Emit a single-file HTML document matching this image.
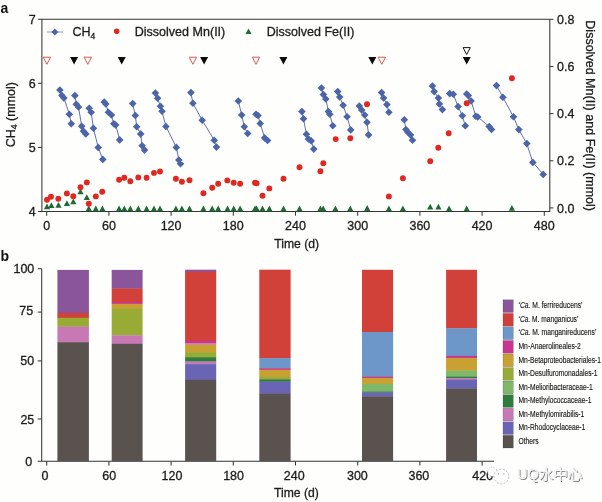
<!DOCTYPE html>
<html><head><meta charset="utf-8"><title>Figure</title>
<style>html,body{margin:0;padding:0;background:#fefefd;}body{width:602px;height:502px;overflow:hidden;position:relative;}</style>
</head><body>
<svg width="602" height="502" viewBox="0 0 602 502" style="position:absolute;left:0;top:0">
<rect width="602" height="502" fill="#fefefd"/>
<g stroke="#353535" stroke-width="1.05" fill="none">
<path d="M37.9 19.3 H549.8 M41.9 19.3 V211.4 M549.8 19.3 V211.9 M37.9 211.4 H549.8"/>
<path d="M37.9 83.3 H41.9"/>
<path d="M37.9 147.4 H41.9"/>
<path d="M549.8 207.9 H553.4"/>
<path d="M549.8 160.8 H553.4"/>
<path d="M549.8 113.6 H553.4"/>
<path d="M549.8 66.5 H553.4"/>
<path d="M549.8 19.3 H553.4"/>
<path d="M46.7 211.4 V215.7"/>
<path d="M108.9 211.4 V215.7"/>
<path d="M171.1 211.4 V215.7"/>
<path d="M233.3 211.4 V215.7"/>
<path d="M295.5 211.4 V215.7"/>
<path d="M357.7 211.4 V215.7"/>
<path d="M419.9 211.4 V215.7"/>
<path d="M482.1 211.4 V215.7"/>
<path d="M544.3 211.4 V215.7"/>
</g>
<g font-family='"Liberation Sans", "Noto Sans CJK SC", sans-serif' font-size="12.5" fill="#1c1c1c" stroke="#1c1c1c" stroke-width="0.3">
<text x="35.6" y="23.7" text-anchor="end">7</text>
<text x="35.6" y="87.7" text-anchor="end">6</text>
<text x="35.6" y="151.8" text-anchor="end">5</text>
<text x="35.6" y="215.8" text-anchor="end">4</text>
<text x="557.0" y="212.6">0.0</text>
<text x="557.0" y="165.4">0.2</text>
<text x="557.0" y="118.3">0.4</text>
<text x="557.0" y="71.2">0.6</text>
<text x="557.0" y="24.0">0.8</text>
<text x="46.7" y="230" text-anchor="middle">0</text>
<text x="108.9" y="230" text-anchor="middle">60</text>
<text x="171.1" y="230" text-anchor="middle">120</text>
<text x="233.3" y="230" text-anchor="middle">180</text>
<text x="295.5" y="230" text-anchor="middle">240</text>
<text x="357.7" y="230" text-anchor="middle">300</text>
<text x="419.9" y="230" text-anchor="middle">360</text>
<text x="482.1" y="230" text-anchor="middle">420</text>
<text x="544.3" y="230" text-anchor="middle">480</text>
<text x="274.3" y="247.9" textLength="44.8" lengthAdjust="spacingAndGlyphs">Time (d)</text>
<text transform="translate(14.8 147.3) rotate(-90)" textLength="65.3" lengthAdjust="spacingAndGlyphs">CH<tspan font-size="8.5" dy="2.5">4</tspan><tspan dy="-2.5"> (mmol)</tspan></text>
<text transform="translate(586.0 20.3) rotate(90)" textLength="190.7" lengthAdjust="spacingAndGlyphs">Dissolved Mn(II) and Fe(II) (mmol)</text>
<text x="72.4" y="36.2">CH<tspan font-size="8.5" dy="2.5">4</tspan></text>
<text x="134.7" y="36.2" textLength="90.6" lengthAdjust="spacingAndGlyphs">Dissolved Mn(II)</text>
<text x="266.7" y="36.2" textLength="87.7" lengthAdjust="spacingAndGlyphs">Dissolved Fe(II)</text>
</g>
<g font-family='"Liberation Sans", "Noto Sans CJK SC", sans-serif' font-weight="bold" font-size="14" fill="#111">
<text x="0.6" y="12.8">a</text>
<text x="0.6" y="261">b</text>
</g>
<path d="M47 32 H63" stroke="#7d8fc2" stroke-width="0.9" fill="none"/>
<path d="M54.8 28.5 l3.5 3.5 l-3.5 3.5 l-3.5 -3.5 z" fill="#4c65a8"/>
<circle cx="116.7" cy="31.3" r="2.8" fill="#df2820"/>
<path d="M248.5 28.6 l3 5.4 h-6 z" fill="#1f6b33"/>
<g stroke="#566aa6" stroke-width="0.95" fill="none" stroke-linejoin="round">
<path d="M59.9 89.9 L61.9 95.5 L63.9 97.9 L69.3 114.3 L71.3 123.8"/>
<path d="M74.9 95.5 L76.3 104.3 L78.5 106.9 L81.7 126.2 L83.5 131.2 L85.8 133.8"/>
<path d="M89.2 108.3 L91.2 112.3 L93.4 128.2 L98.2 147.3 L102.8 159.3"/>
<path d="M104.2 101.9 L105.8 103.9 L108.4 112.3 L111.4 114.9 L113.8 123.8 L115.7 125.0 L119.7 139.8"/>
<path d="M132.7 103.5 L135.3 115.4 L136.7 126.8 L140.7 133.8 L142.1 145.7 L144.5 150.1"/>
<path d="M155.4 92.9 L157.6 98.3 L160.4 106.3 L162.0 111.3 L165.9 126.4 L176.3 147.3 L178.9 160.1 L180.5 163.7"/>
<path d="M190.9 92.5 L192.9 103.3 L202.2 120.2 L214.2 140.2 L216.4 147.1"/>
<path d="M238.3 100.9 L241.7 114.9 L244.3 126.8 L247.7 133.4"/>
<path d="M256.0 114.3 L258.0 115.4 L260.2 123.4 L264.6 137.8 L267.6 140.4"/>
<path d="M301.9 111.5 L303.5 118.8 L306.4 134.2 L308.4 138.8 L311.2 140.8 L313.8 149.1"/>
<path d="M321.4 87.9 L323.4 94.5 L325.8 98.9 L328.4 111.5 L329.8 114.3 L332.8 125.8"/>
<path d="M337.7 91.5 L339.7 96.9 L343.1 105.3 L347.1 116.8 L350.7 129.8"/>
<path d="M359.3 105.9 L361.7 109.9 L364.7 114.9 L367.0 122.2 L368.6 134.8"/>
<path d="M381.6 92.5 L383.6 97.9 L386.9 104.5 L388.9 112.3"/>
<path d="M404.3 119.8 L405.9 129.4 L407.9 132.2 L410.5 134.8 L412.5 140.2"/>
<path d="M432.4 85.9 L434.2 91.5 L438.4 97.9 L439.4 103.9 L442.4 109.5"/>
<path d="M449.7 93.5 L453.3 94.3 L458.1 106.5 L462.3 115.8 L465.3 125.8"/>
<path d="M466.7 93.9 L468.3 95.5 L471.1 100.9 L475.8 116.2 L477.8 117.0 L489.2 126.5 L491.5 129.4"/>
<path d="M496.5 85.5 L502.9 97.3 L513.5 116.8 L518.8 129.6 L526.8 143.6 L532.8 162.3 L543.2 174.3"/>
</g>
<path fill="#4c65a8" d="M59.9 86.2 l3.8 3.8 l-3.8 3.8 l-3.8 -3.8 z M61.9 91.8 l3.8 3.8 l-3.8 3.8 l-3.8 -3.8 z M63.9 94.2 l3.8 3.8 l-3.8 3.8 l-3.8 -3.8 z M69.3 110.5 l3.8 3.8 l-3.8 3.8 l-3.8 -3.8 z M71.3 120.0 l3.8 3.8 l-3.8 3.8 l-3.8 -3.8 z M74.9 91.8 l3.8 3.8 l-3.8 3.8 l-3.8 -3.8 z M76.3 100.5 l3.8 3.8 l-3.8 3.8 l-3.8 -3.8 z M78.5 103.2 l3.8 3.8 l-3.8 3.8 l-3.8 -3.8 z M81.7 122.5 l3.8 3.8 l-3.8 3.8 l-3.8 -3.8 z M83.5 127.4 l3.8 3.8 l-3.8 3.8 l-3.8 -3.8 z M85.8 130.1 l3.8 3.8 l-3.8 3.8 l-3.8 -3.8 z M89.2 104.5 l3.8 3.8 l-3.8 3.8 l-3.8 -3.8 z M91.2 108.5 l3.8 3.8 l-3.8 3.8 l-3.8 -3.8 z M93.4 124.4 l3.8 3.8 l-3.8 3.8 l-3.8 -3.8 z M98.2 143.6 l3.8 3.8 l-3.8 3.8 l-3.8 -3.8 z M102.8 155.6 l3.8 3.8 l-3.8 3.8 l-3.8 -3.8 z M104.2 98.2 l3.8 3.8 l-3.8 3.8 l-3.8 -3.8 z M105.8 100.2 l3.8 3.8 l-3.8 3.8 l-3.8 -3.8 z M108.4 108.5 l3.8 3.8 l-3.8 3.8 l-3.8 -3.8 z M111.4 111.2 l3.8 3.8 l-3.8 3.8 l-3.8 -3.8 z M113.8 120.0 l3.8 3.8 l-3.8 3.8 l-3.8 -3.8 z M115.7 121.2 l3.8 3.8 l-3.8 3.8 l-3.8 -3.8 z M119.7 136.1 l3.8 3.8 l-3.8 3.8 l-3.8 -3.8 z M132.7 99.8 l3.8 3.8 l-3.8 3.8 l-3.8 -3.8 z M135.3 111.7 l3.8 3.8 l-3.8 3.8 l-3.8 -3.8 z M136.7 123.0 l3.8 3.8 l-3.8 3.8 l-3.8 -3.8 z M140.7 130.1 l3.8 3.8 l-3.8 3.8 l-3.8 -3.8 z M142.1 141.9 l3.8 3.8 l-3.8 3.8 l-3.8 -3.8 z M144.5 146.3 l3.8 3.8 l-3.8 3.8 l-3.8 -3.8 z M155.4 89.2 l3.8 3.8 l-3.8 3.8 l-3.8 -3.8 z M157.6 94.5 l3.8 3.8 l-3.8 3.8 l-3.8 -3.8 z M160.4 102.5 l3.8 3.8 l-3.8 3.8 l-3.8 -3.8 z M162.0 107.5 l3.8 3.8 l-3.8 3.8 l-3.8 -3.8 z M165.9 122.7 l3.8 3.8 l-3.8 3.8 l-3.8 -3.8 z M176.3 143.6 l3.8 3.8 l-3.8 3.8 l-3.8 -3.8 z M178.9 156.3 l3.8 3.8 l-3.8 3.8 l-3.8 -3.8 z M180.5 159.9 l3.8 3.8 l-3.8 3.8 l-3.8 -3.8 z M190.9 88.8 l3.8 3.8 l-3.8 3.8 l-3.8 -3.8 z M192.9 99.5 l3.8 3.8 l-3.8 3.8 l-3.8 -3.8 z M202.2 116.5 l3.8 3.8 l-3.8 3.8 l-3.8 -3.8 z M214.2 136.4 l3.8 3.8 l-3.8 3.8 l-3.8 -3.8 z M216.4 143.3 l3.8 3.8 l-3.8 3.8 l-3.8 -3.8 z M238.3 97.2 l3.8 3.8 l-3.8 3.8 l-3.8 -3.8 z M241.7 111.2 l3.8 3.8 l-3.8 3.8 l-3.8 -3.8 z M244.3 123.0 l3.8 3.8 l-3.8 3.8 l-3.8 -3.8 z M247.7 129.7 l3.8 3.8 l-3.8 3.8 l-3.8 -3.8 z M256.0 110.5 l3.8 3.8 l-3.8 3.8 l-3.8 -3.8 z M258.0 111.7 l3.8 3.8 l-3.8 3.8 l-3.8 -3.8 z M260.2 119.7 l3.8 3.8 l-3.8 3.8 l-3.8 -3.8 z M264.6 134.1 l3.8 3.8 l-3.8 3.8 l-3.8 -3.8 z M267.6 136.7 l3.8 3.8 l-3.8 3.8 l-3.8 -3.8 z M301.9 107.8 l3.8 3.8 l-3.8 3.8 l-3.8 -3.8 z M303.5 115.0 l3.8 3.8 l-3.8 3.8 l-3.8 -3.8 z M306.4 130.4 l3.8 3.8 l-3.8 3.8 l-3.8 -3.8 z M308.4 135.1 l3.8 3.8 l-3.8 3.8 l-3.8 -3.8 z M311.2 137.1 l3.8 3.8 l-3.8 3.8 l-3.8 -3.8 z M313.8 145.3 l3.8 3.8 l-3.8 3.8 l-3.8 -3.8 z M321.4 84.2 l3.8 3.8 l-3.8 3.8 l-3.8 -3.8 z M323.4 90.8 l3.8 3.8 l-3.8 3.8 l-3.8 -3.8 z M325.8 95.2 l3.8 3.8 l-3.8 3.8 l-3.8 -3.8 z M328.4 107.8 l3.8 3.8 l-3.8 3.8 l-3.8 -3.8 z M329.8 110.5 l3.8 3.8 l-3.8 3.8 l-3.8 -3.8 z M332.8 122.0 l3.8 3.8 l-3.8 3.8 l-3.8 -3.8 z M337.7 87.8 l3.8 3.8 l-3.8 3.8 l-3.8 -3.8 z M339.7 93.2 l3.8 3.8 l-3.8 3.8 l-3.8 -3.8 z M343.1 101.5 l3.8 3.8 l-3.8 3.8 l-3.8 -3.8 z M347.1 113.0 l3.8 3.8 l-3.8 3.8 l-3.8 -3.8 z M350.7 126.1 l3.8 3.8 l-3.8 3.8 l-3.8 -3.8 z M359.3 102.2 l3.8 3.8 l-3.8 3.8 l-3.8 -3.8 z M361.7 106.2 l3.8 3.8 l-3.8 3.8 l-3.8 -3.8 z M364.7 111.2 l3.8 3.8 l-3.8 3.8 l-3.8 -3.8 z M367.0 118.5 l3.8 3.8 l-3.8 3.8 l-3.8 -3.8 z M368.6 131.1 l3.8 3.8 l-3.8 3.8 l-3.8 -3.8 z M381.6 88.8 l3.8 3.8 l-3.8 3.8 l-3.8 -3.8 z M383.6 94.2 l3.8 3.8 l-3.8 3.8 l-3.8 -3.8 z M386.9 100.8 l3.8 3.8 l-3.8 3.8 l-3.8 -3.8 z M388.9 108.5 l3.8 3.8 l-3.8 3.8 l-3.8 -3.8 z M404.3 116.0 l3.8 3.8 l-3.8 3.8 l-3.8 -3.8 z M405.9 125.7 l3.8 3.8 l-3.8 3.8 l-3.8 -3.8 z M407.9 128.4 l3.8 3.8 l-3.8 3.8 l-3.8 -3.8 z M410.5 131.1 l3.8 3.8 l-3.8 3.8 l-3.8 -3.8 z M412.5 136.4 l3.8 3.8 l-3.8 3.8 l-3.8 -3.8 z M432.4 82.2 l3.8 3.8 l-3.8 3.8 l-3.8 -3.8 z M434.2 87.8 l3.8 3.8 l-3.8 3.8 l-3.8 -3.8 z M438.4 94.2 l3.8 3.8 l-3.8 3.8 l-3.8 -3.8 z M439.4 100.2 l3.8 3.8 l-3.8 3.8 l-3.8 -3.8 z M442.4 105.8 l3.8 3.8 l-3.8 3.8 l-3.8 -3.8 z M449.7 89.8 l3.8 3.8 l-3.8 3.8 l-3.8 -3.8 z M453.3 90.5 l3.8 3.8 l-3.8 3.8 l-3.8 -3.8 z M458.1 102.8 l3.8 3.8 l-3.8 3.8 l-3.8 -3.8 z M462.3 112.0 l3.8 3.8 l-3.8 3.8 l-3.8 -3.8 z M465.3 122.0 l3.8 3.8 l-3.8 3.8 l-3.8 -3.8 z M466.7 90.2 l3.8 3.8 l-3.8 3.8 l-3.8 -3.8 z M468.3 91.8 l3.8 3.8 l-3.8 3.8 l-3.8 -3.8 z M471.1 97.2 l3.8 3.8 l-3.8 3.8 l-3.8 -3.8 z M475.8 112.5 l3.8 3.8 l-3.8 3.8 l-3.8 -3.8 z M477.8 113.2 l3.8 3.8 l-3.8 3.8 l-3.8 -3.8 z M489.2 122.8 l3.8 3.8 l-3.8 3.8 l-3.8 -3.8 z M491.5 125.7 l3.8 3.8 l-3.8 3.8 l-3.8 -3.8 z M496.5 81.8 l3.8 3.8 l-3.8 3.8 l-3.8 -3.8 z M502.9 93.5 l3.8 3.8 l-3.8 3.8 l-3.8 -3.8 z M513.5 113.0 l3.8 3.8 l-3.8 3.8 l-3.8 -3.8 z M518.8 125.8 l3.8 3.8 l-3.8 3.8 l-3.8 -3.8 z M526.8 139.8 l3.8 3.8 l-3.8 3.8 l-3.8 -3.8 z M532.8 158.6 l3.8 3.8 l-3.8 3.8 l-3.8 -3.8 z M543.2 170.6 l3.8 3.8 l-3.8 3.8 l-3.8 -3.8 z"/>
<path fill="#1f6b33" d="M47.0 203.4 l3.1 5.8 h-6.2 z M51.4 202.2 l3.1 5.8 h-6.2 z M58.5 201.9 l3.1 5.8 h-6.2 z M66.9 200.3 l3.1 5.8 h-6.2 z M73.3 198.5 l3.1 5.8 h-6.2 z M80.5 188.5 l3.1 5.8 h-6.2 z M86.8 194.3 l3.1 5.8 h-6.2 z M88.8 205.4 l3.1 5.8 h-6.2 z M95.8 205.4 l3.1 5.8 h-6.2 z M102.4 205.4 l3.1 5.8 h-6.2 z M119.1 205.4 l3.1 5.8 h-6.2 z M124.3 205.4 l3.1 5.8 h-6.2 z M130.3 205.4 l3.1 5.8 h-6.2 z M138.3 205.4 l3.1 5.8 h-6.2 z M146.6 205.4 l3.1 5.8 h-6.2 z M154.0 205.4 l3.1 5.8 h-6.2 z M160.0 205.4 l3.1 5.8 h-6.2 z M175.9 205.4 l3.1 5.8 h-6.2 z M181.9 205.4 l3.1 5.8 h-6.2 z M189.5 205.4 l3.1 5.8 h-6.2 z M203.4 205.4 l3.1 5.8 h-6.2 z M212.2 205.4 l3.1 5.8 h-6.2 z M218.2 205.4 l3.1 5.8 h-6.2 z M227.5 205.4 l3.1 5.8 h-6.2 z M233.7 205.4 l3.1 5.8 h-6.2 z M240.1 205.4 l3.1 5.8 h-6.2 z M255.0 205.4 l3.1 5.8 h-6.2 z M256.6 205.4 l3.1 5.8 h-6.2 z M262.5 205.4 l3.1 5.8 h-6.2 z M269.4 205.4 l3.1 5.8 h-6.2 z M283.5 205.4 l3.1 5.8 h-6.2 z M299.5 205.4 l3.1 5.8 h-6.2 z M320.4 205.4 l3.1 5.8 h-6.2 z M323.2 205.4 l3.1 5.8 h-6.2 z M335.4 205.4 l3.1 5.8 h-6.2 z M350.3 205.4 l3.1 5.8 h-6.2 z M367.2 205.1 l3.1 5.8 h-6.2 z M388.9 205.5 l3.1 5.8 h-6.2 z M402.9 205.5 l3.1 5.8 h-6.2 z M430.2 203.8 l3.1 5.8 h-6.2 z M438.4 203.8 l3.1 5.8 h-6.2 z M449.1 205.5 l3.1 5.8 h-6.2 z M466.7 205.4 l3.1 5.8 h-6.2 z M511.9 204.9 l3.1 5.8 h-6.2 z"/>
<g fill="#df2820">
<circle cx="47.0" cy="199.8" r="2.95"/>
<circle cx="51.0" cy="196.8" r="2.95"/>
<circle cx="58.3" cy="198.8" r="2.95"/>
<circle cx="66.9" cy="193.4" r="2.95"/>
<circle cx="73.3" cy="196.2" r="2.95"/>
<circle cx="80.5" cy="187.2" r="2.95"/>
<circle cx="86.8" cy="182.4" r="2.95"/>
<circle cx="88.8" cy="203.8" r="2.95"/>
<circle cx="95.8" cy="196.4" r="2.95"/>
<circle cx="102.2" cy="191.8" r="2.95"/>
<circle cx="119.1" cy="179.8" r="2.95"/>
<circle cx="124.3" cy="177.8" r="2.95"/>
<circle cx="130.3" cy="181.2" r="2.95"/>
<circle cx="138.3" cy="177.4" r="2.95"/>
<circle cx="146.6" cy="177.8" r="2.95"/>
<circle cx="154.0" cy="172.9" r="2.95"/>
<circle cx="160.0" cy="171.5" r="2.95"/>
<circle cx="175.9" cy="178.8" r="2.95"/>
<circle cx="181.9" cy="181.8" r="2.95"/>
<circle cx="189.5" cy="180.2" r="2.95"/>
<circle cx="203.4" cy="193.2" r="2.95"/>
<circle cx="212.2" cy="187.8" r="2.95"/>
<circle cx="218.2" cy="183.8" r="2.95"/>
<circle cx="227.3" cy="180.4" r="2.95"/>
<circle cx="233.7" cy="182.8" r="2.95"/>
<circle cx="240.1" cy="183.8" r="2.95"/>
<circle cx="255.0" cy="182.8" r="2.95"/>
<circle cx="256.6" cy="183.2" r="2.95"/>
<circle cx="262.5" cy="195.8" r="2.95"/>
<circle cx="269.3" cy="188.4" r="2.95"/>
<circle cx="283.5" cy="178.8" r="2.95"/>
<circle cx="299.5" cy="167.3" r="2.95"/>
<circle cx="320.4" cy="171.3" r="2.95"/>
<circle cx="323.3" cy="163.3" r="2.95"/>
<circle cx="335.7" cy="139.1" r="2.95"/>
<circle cx="350.3" cy="138.3" r="2.95"/>
<circle cx="367.0" cy="104.3" r="2.95"/>
<circle cx="388.9" cy="196.4" r="2.95"/>
<circle cx="402.9" cy="178.2" r="2.95"/>
<circle cx="430.2" cy="161.2" r="2.95"/>
<circle cx="438.3" cy="147.8" r="2.95"/>
<circle cx="448.7" cy="133.3" r="2.95"/>
<circle cx="466.7" cy="103.3" r="2.95"/>
<circle cx="511.9" cy="78.3" r="2.95"/>
</g>
<path fill="#0a0a0a" d="M70.10 56.90 h8.00 l-4.00 7.50 z M117.70 56.90 h8.00 l-4.00 7.50 z M200.10 56.90 h8.00 l-4.00 7.50 z M279.40 56.90 h8.00 l-4.00 7.50 z M368.30 56.90 h8.00 l-4.00 7.50 z M462.70 56.90 h8.00 l-4.00 7.50 z"/>
<path fill="#fff" stroke="#d85b52" stroke-width="1" d="M43.20 57.20 h7.40 l-3.70 7.10 z M84.10 57.20 h7.40 l-3.70 7.10 z M189.20 57.20 h7.40 l-3.70 7.10 z M252.30 57.20 h7.40 l-3.70 7.10 z M378.10 57.20 h7.40 l-3.70 7.10 z"/>
<path fill="#fff" stroke="#111" stroke-width="1" d="M463.10 47.60 h7.20 l-3.60 6.90 z"/>
<g stroke="#353535" stroke-width="1.05" fill="none">
<path d="M41.7 268.7 V461.2 M37.7 461.2 H494"/>
<path d="M37.7 268.7 H41.7"/>
<path d="M37.7 312.1 H41.7"/>
<path d="M37.7 360.9 H41.7"/>
<path d="M37.7 419.0 H41.7"/>
<path d="M46.7 461.2 V465.5"/>
<path d="M108.9 461.2 V465.5"/>
<path d="M171.1 461.2 V465.5"/>
<path d="M233.3 461.2 V465.5"/>
<path d="M295.5 461.2 V465.5"/>
<path d="M357.7 461.2 V465.5"/>
<path d="M419.9 461.2 V465.5"/>
<path d="M482.1 461.2 V465.5"/>
</g>
<g font-family='"Liberation Sans", "Noto Sans CJK SC", sans-serif' font-size="12.5" fill="#1c1c1c" stroke="#1c1c1c" stroke-width="0.3">
<text x="34.3" y="272.7" text-anchor="end">100</text>
<text x="33.2" y="314.9" text-anchor="end">75</text>
<text x="34.1" y="365.0" text-anchor="end">50</text>
<text x="34.3" y="424.1" text-anchor="end">25</text>
<text x="32.3" y="466.2" text-anchor="end">0</text>
<text x="45.1" y="479.9" text-anchor="middle">0</text>
<text x="109.2" y="479.9" text-anchor="middle">60</text>
<text x="172.0" y="479.9" text-anchor="middle">120</text>
<text x="233.6" y="479.9" text-anchor="middle">180</text>
<text x="294.3" y="479.9" text-anchor="middle">240</text>
<text x="357.4" y="479.9" text-anchor="middle">300</text>
<text x="418.9" y="479.9" text-anchor="middle">360</text>
<text x="482.7" y="479.9" text-anchor="middle">420</text>
<text x="274.0" y="497.3" textLength="44.8" lengthAdjust="spacingAndGlyphs">Time (d)</text>
</g>
<rect x="57.4" y="269.9" width="31.5" height="43.3" fill="#8b559b"/>
<rect x="57.4" y="312.9" width="31.5" height="5.2" fill="#d2403a"/>
<rect x="57.4" y="317.8" width="31.5" height="9.1" fill="#98ac35"/>
<rect x="57.4" y="326.6" width="31.5" height="15.9" fill="#c878b5"/>
<rect x="57.4" y="342.2" width="31.5" height="118.9" fill="#5a524f"/>
<rect x="111.7" y="269.9" width="30.9" height="18.9" fill="#8b559b"/>
<rect x="111.7" y="288.5" width="30.9" height="13.8" fill="#d2403a"/>
<rect x="111.7" y="302.0" width="30.9" height="2.1" fill="#c8368f"/>
<rect x="111.7" y="303.8" width="30.9" height="5.3" fill="#c9a132"/>
<rect x="111.7" y="308.8" width="30.9" height="26.8" fill="#98ac35"/>
<rect x="111.7" y="335.3" width="30.9" height="8.8" fill="#c878b5"/>
<rect x="111.7" y="343.8" width="30.9" height="117.3" fill="#5a524f"/>
<rect x="185.1" y="269.7" width="31.1" height="2.3" fill="#8b559b"/>
<rect x="185.1" y="271.7" width="31.1" height="69.4" fill="#d2403a"/>
<rect x="185.1" y="340.8" width="31.1" height="2.7" fill="#c8368f"/>
<rect x="185.1" y="343.2" width="31.1" height="1.7" fill="#c878b5"/>
<rect x="185.1" y="344.6" width="31.1" height="7.8" fill="#c9a132"/>
<rect x="185.1" y="352.1" width="31.1" height="5.4" fill="#98ac35"/>
<rect x="185.1" y="357.2" width="31.1" height="4.6" fill="#2f7d3c"/>
<rect x="185.1" y="361.5" width="31.1" height="2.9" fill="#c878b5"/>
<rect x="185.1" y="364.1" width="31.1" height="15.8" fill="#6a64b4"/>
<rect x="185.1" y="379.6" width="31.1" height="81.5" fill="#5a524f"/>
<rect x="259.3" y="269.7" width="31.3" height="88.7" fill="#d2403a"/>
<rect x="259.3" y="358.1" width="31.3" height="10.4" fill="#6d96c9"/>
<rect x="259.3" y="368.2" width="31.3" height="1.8" fill="#c8368f"/>
<rect x="259.3" y="369.7" width="31.3" height="7.5" fill="#c9a132"/>
<rect x="259.3" y="376.9" width="31.3" height="2.7" fill="#98ac35"/>
<rect x="259.3" y="379.3" width="31.3" height="2.6" fill="#2f7d3c"/>
<rect x="259.3" y="381.6" width="31.3" height="12.3" fill="#6a64b4"/>
<rect x="259.3" y="393.6" width="31.3" height="67.5" fill="#5a524f"/>
<rect x="362.0" y="269.8" width="31.1" height="62.5" fill="#d2403a"/>
<rect x="362.0" y="332.0" width="31.1" height="44.9" fill="#6d96c9"/>
<rect x="362.0" y="376.6" width="31.1" height="1.6" fill="#c8368f"/>
<rect x="362.0" y="377.9" width="31.1" height="6.3" fill="#c9a132"/>
<rect x="362.0" y="383.9" width="31.1" height="8.0" fill="#7fb86a"/>
<rect x="362.0" y="391.6" width="31.1" height="1.2" fill="#2f7d3c"/>
<rect x="362.0" y="392.5" width="31.1" height="4.1" fill="#6a64b4"/>
<rect x="362.0" y="396.3" width="31.1" height="64.8" fill="#5a524f"/>
<rect x="446.1" y="269.8" width="30.9" height="58.8" fill="#d2403a"/>
<rect x="446.1" y="328.3" width="30.9" height="27.9" fill="#6d96c9"/>
<rect x="446.1" y="355.9" width="30.9" height="2.3" fill="#c8368f"/>
<rect x="446.1" y="357.9" width="30.9" height="13.0" fill="#c9a132"/>
<rect x="446.1" y="370.6" width="30.9" height="6.3" fill="#7fb86a"/>
<rect x="446.1" y="376.6" width="30.9" height="1.9" fill="#2f7d3c"/>
<rect x="446.1" y="378.2" width="30.9" height="1.7" fill="#c878b5"/>
<rect x="446.1" y="379.6" width="30.9" height="9.1" fill="#6a64b4"/>
<rect x="446.1" y="388.4" width="30.9" height="72.7" fill="#5a524f"/>
<g font-family='"Liberation Sans", "Noto Sans CJK SC", sans-serif' font-size="8.9" fill="#181818" stroke="#181818" stroke-width="0.15">
<rect x="503" y="299.8" width="10.3" height="12.7" fill="#8b559b"/>
<text x="518.5" y="308.3" textLength="64.0" lengthAdjust="spacingAndGlyphs">‘<tspan font-style="italic">Ca.</tspan> M. ferrireducens’</text>
<rect x="503" y="313.4" width="10.3" height="12.7" fill="#d2403a"/>
<text x="518.5" y="321.9" textLength="59.9" lengthAdjust="spacingAndGlyphs">‘<tspan font-style="italic">Ca.</tspan> M. manganicus’</text>
<rect x="503" y="326.9" width="10.3" height="12.7" fill="#6d96c9"/>
<text x="518.5" y="335.4" textLength="77.9" lengthAdjust="spacingAndGlyphs">‘<tspan font-style="italic">Ca.</tspan> M. manganireducens’</text>
<rect x="503" y="340.5" width="10.3" height="12.7" fill="#c8368f"/>
<text x="518.5" y="349.0" textLength="62.3" lengthAdjust="spacingAndGlyphs">Mn-Anaerolineales-2</text>
<rect x="503" y="354.0" width="10.3" height="12.7" fill="#c9a132"/>
<text x="518.5" y="362.5" textLength="82.5" lengthAdjust="spacingAndGlyphs">Mn-Betaproteobacteriales-1</text>
<rect x="503" y="367.6" width="10.3" height="12.7" fill="#98ac35"/>
<text x="518.5" y="376.1" textLength="79.0" lengthAdjust="spacingAndGlyphs">Mn-Desulfuromonadales-1</text>
<rect x="503" y="381.1" width="10.3" height="12.7" fill="#7fb86a"/>
<text x="518.5" y="389.6" textLength="74.2" lengthAdjust="spacingAndGlyphs">Mn-Melioribacteraceae-1</text>
<rect x="503" y="394.7" width="10.3" height="12.7" fill="#2f7d3c"/>
<text x="518.5" y="403.2" textLength="72.9" lengthAdjust="spacingAndGlyphs">Mn-Methylococcaceae-1</text>
<rect x="503" y="408.2" width="10.3" height="12.7" fill="#c878b5"/>
<text x="518.5" y="416.7" textLength="65.8" lengthAdjust="spacingAndGlyphs">Mn-Methylomirabilis-1</text>
<rect x="503" y="421.8" width="10.3" height="12.7" fill="#6a64b4"/>
<text x="518.5" y="430.2" textLength="66.8" lengthAdjust="spacingAndGlyphs">Mn-Rhodocyclaceae-1</text>
<rect x="503" y="435.3" width="10.3" height="12.7" fill="#5a524f"/>
<text x="518.5" y="443.8" textLength="20.2" lengthAdjust="spacingAndGlyphs">Others</text>
</g>
<g fill="#fefefe" stroke="#9a9a9a" stroke-width="0.6"><circle cx="492.3" cy="471.8" r="4.6" stroke-dasharray="1.2 1.6"/><circle cx="501.4" cy="476.5" r="7.4" stroke-dasharray="2.2 1.4"/></g>
<g fill="#8a8a8a"><circle cx="498.6" cy="473.8" r="0.6"/><circle cx="503.8" cy="473.8" r="0.6"/></g>
<g font-family='"Liberation Sans", "Noto Sans CJK SC", sans-serif' font-size="14.2">
<text x="517.9" y="480" textLength="65.5" lengthAdjust="spacingAndGlyphs" fill="#6f6f6f">UQ水中心</text>
<text x="517.2" y="479.3" textLength="65.5" lengthAdjust="spacingAndGlyphs" fill="#fefefe" stroke="#d4d4d4" stroke-width="0.25">UQ水中心</text>
</g>
</svg>
</body></html>
